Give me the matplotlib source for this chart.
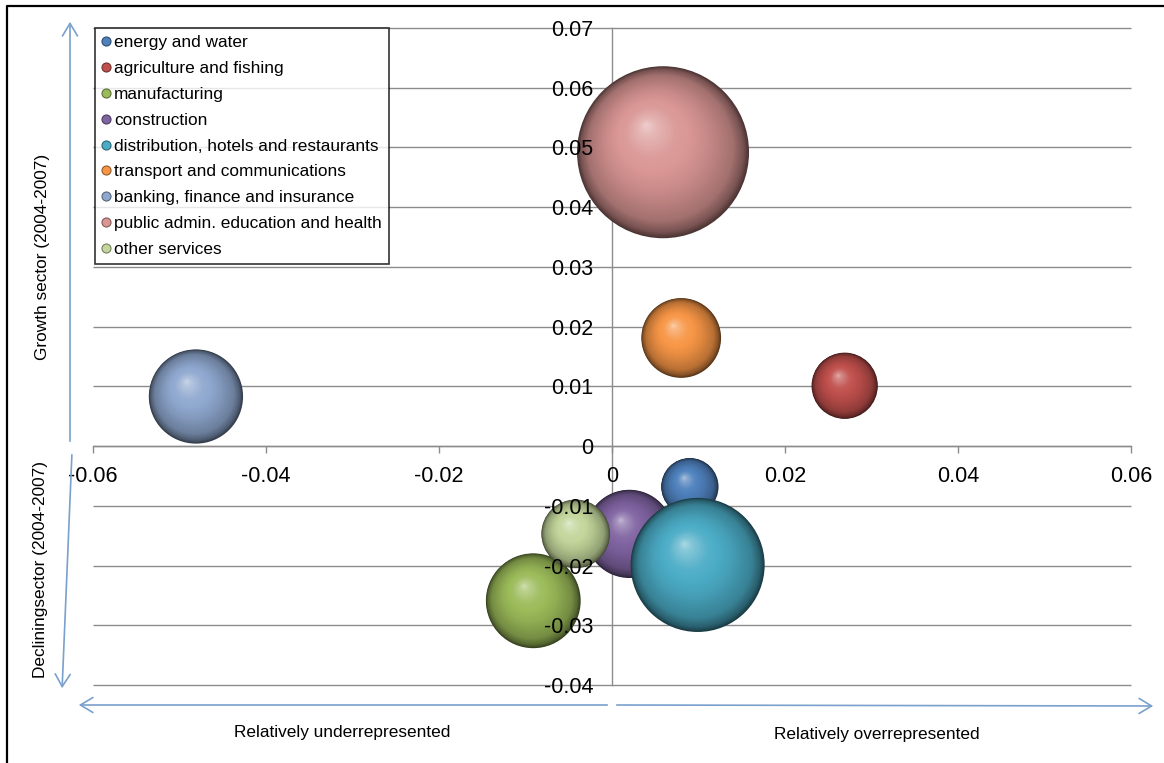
import numpy as np
import matplotlib
matplotlib.use("Agg")
import matplotlib.pyplot as plt
from matplotlib.lines import Line2D
from matplotlib.patches import FancyArrowPatch
from matplotlib.colors import to_rgb

plt.rcParams["font.family"] = ["Liberation Sans", "DejaVu Sans"]

# ---- data -----------------------------------------------------------------
sectors = [
    "energy and water",
    "agriculture and fishing",
    "manufacturing",
    "construction",
    "distribution, hotels and restaurants",
    "transport and communications",
    "banking, finance and insurance",
    "public admin. education and health",
    "other services",
]
# relative (over/under) representation of the sector
rel_repr = [0.0090, 0.0269, -0.0091, 0.0020, 0.0099, 0.0080, -0.0481, 0.0059, -0.0042]
# sector growth 2004-2007
growth = [-0.0068, 0.0101, -0.0259, -0.0147, -0.0199, 0.0181, 0.0083, 0.0492, -0.0147]
# bubble size: employment share (%)
emp_share = [3.0, 4.0, 8.2, 7.1, 16.4, 5.8, 8.1, 27.0, 4.3]

colors = ["#4F81BD", "#C0504D", "#9BBB59", "#8064A2", "#4BACC6",
          "#F79646", "#8FA8CF", "#D99694", "#C3D69B"]

x_ticks = [-0.06, -0.04, -0.02, 0.0, 0.02, 0.04, 0.06]
x_tick_labels = ["-0.06", "-0.04", "-0.02", "0", "0.02", "0.04", "0.06"]
y_ticks = [-0.04, -0.03, -0.02, -0.01, 0.0, 0.01, 0.02, 0.03, 0.04, 0.05, 0.06, 0.07]
y_tick_labels = ["-0.04", "-0.03", "-0.02", "-0.01", "0", "0.01", "0.02",
                 "0.03", "0.04", "0.05", "0.06", "0.07"]

# ---- figure ---------------------------------------------------------------
W, H, DPI = 1164, 763, 100
fig = plt.figure(figsize=(W / DPI, H / DPI), dpi=DPI)
fig.patch.set_facecolor("white")


def fpos(x, y):
    """pixel position -> figure fraction"""
    return (x / W, 1 - y / H)


ax = fig.add_axes([93 / W, 1 - 685 / H, (1131 - 93) / W, (685 - 28) / H])
ax.set_xlim(-0.06, 0.06)
ax.set_ylim(-0.04, 0.07)
ax.set_facecolor("none")

grid_col = "#8c8c8c"
ax.hlines(y_ticks, -0.06, 0.06, colors=grid_col, linewidth=1.0, zorder=0.5,
          clip_on=False)

for side in ["top", "right"]:
    ax.spines[side].set_visible(False)
ax.spines["left"].set_position(("data", 0))
ax.spines["bottom"].set_position(("data", 0))
for side in ["left", "bottom"]:
    ax.spines[side].set_color(grid_col)
    ax.spines[side].set_linewidth(1.0)
    ax.spines[side].set_zorder(0.6)

ax.set_xticks(x_ticks)
ax.set_xticklabels(x_tick_labels)
ax.set_yticks(y_ticks)
ax.set_yticklabels(y_tick_labels)
ax.tick_params(axis="x", direction="out", length=5, width=1.0, color=grid_col,
               pad=9, labelsize=15.5)
ax.tick_params(axis="y", length=0, pad=13.5, labelsize=15.5)
ax.xaxis.set_zorder(5)
ax.yaxis.set_zorder(5)

# ---- shaded bubbles -------------------------------------------------------
R_MAX_PX = 86.0
max_share = max(emp_share)
n_layers = 80
frac = np.linspace(1.0, 0.02, n_layers)
f_nodes = [0.0, 0.10, 0.30, 0.60, 0.85, 0.95, 1.0]
k_nodes = [0.55, 0.32, 0.06, -0.08, -0.25, -0.45, -0.65]


def shade(rgb, k):
    rgb = np.asarray(rgb)
    if k >= 0:
        return rgb + (1 - rgb) * k
    return rgb * (1 + k)


inv = ax.transData.inverted()
for i, (x, y, s, c) in enumerate(zip(rel_repr, growth, emp_share, colors)):
    r_px = R_MAX_PX * np.sqrt(s / max_share)
    base = to_rgb(c)
    cx, cy = ax.transData.transform((x, y))
    hx, hy = -0.20 * r_px, 0.32 * r_px
    px = cx + (1 - frac) * hx
    py = cy + (1 - frac) * hy
    pts = inv.transform(np.column_stack([px, py]))
    sizes = (2 * frac * r_px * 72 / DPI) ** 2
    ks = np.interp(frac, f_nodes, k_nodes)
    cols = [shade(base, k) for k in ks]
    ax.scatter(pts[:, 0], pts[:, 1], s=sizes, c=cols, linewidths=0,
               zorder=2 + i * 0.01)

# ---- legend ---------------------------------------------------------------
handles = [Line2D([], [], marker="o", linestyle="none", markersize=6.5,
                  markerfacecolor=c, markeredgecolor=shade(to_rgb(c), -0.4),
                  markeredgewidth=0.8) for c in colors]
leg = fig.legend(handles, sectors, loc="upper left", bbox_to_anchor=fpos(95, 28),
                 bbox_transform=fig.transFigure, frameon=True, fancybox=False,
                 shadow=False, fontsize=12.4, labelspacing=0.63, handlelength=0.5,
                 handletextpad=0.2, borderpad=0.4, borderaxespad=0.0)
leg.get_frame().set_edgecolor("black")
leg.get_frame().set_linewidth(1.2)
leg.set_zorder(10)

# ---- direction arrows and side labels -------------------------------------
arrow_col = "#7aa0cc"
for a, b in [((70, 444), (70, 19)), ((72, 452), (62, 691)),
             ((610, 705), (76, 705)), ((614, 705), (1156, 706))]:
    fig.add_artist(FancyArrowPatch(fpos(*a), fpos(*b), transform=fig.transFigure,
                                   arrowstyle="->,head_length=0.5,head_width=0.3",
                                   mutation_scale=18, color=arrow_col, lw=1.2))

fig.text(*fpos(43, 257), "Growth sector (2004-2007)", rotation=90,
         ha="center", va="center", fontsize=12.4)
fig.text(*fpos(41, 569), "Decliningsector (2004-2007)", rotation=90,
         ha="center", va="center", fontsize=12.4)
fig.text(*fpos(342, 733), "Relatively underrepresented", ha="center",
         va="center", fontsize=12.4)
fig.text(*fpos(877, 735), "Relatively overrepresented", ha="center",
         va="center", fontsize=12.4)

# frame edge
fig.add_artist(Line2D([7 / W, 7 / W, 1.0], [0.0, 1 - 6 / H, 1 - 6 / H],
                      transform=fig.transFigure, color="black", lw=1.6))

fig.savefig("out.png", dpi=DPI)
